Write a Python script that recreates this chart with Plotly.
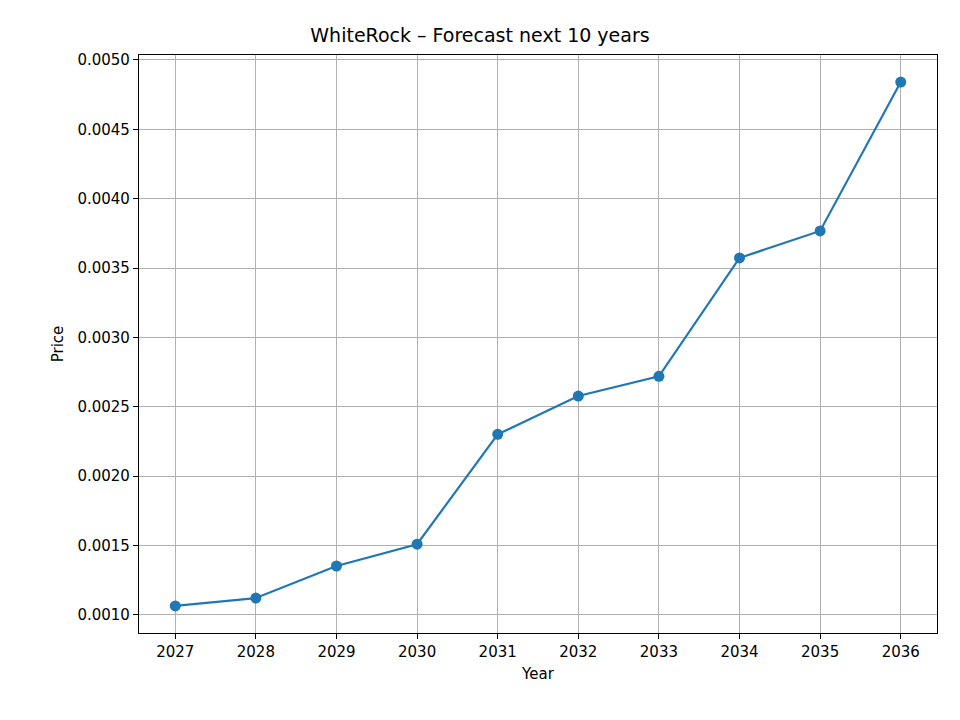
import plotly.graph_objects as go

years = [2027, 2028, 2029, 2030, 2031, 2032, 2033, 2034, 2035, 2036]
prices = [0.001065, 0.001122, 0.001353, 0.001510, 0.002302, 0.002578, 0.002720, 0.003573, 0.003768, 0.004841]
y_ticks = [0.0010, 0.0015, 0.0020, 0.0025, 0.0030, 0.0035, 0.0040, 0.0045, 0.0050]

fig = go.Figure(go.Scatter(
    x=years, y=prices, mode="lines+markers",
    line=dict(color="#1f77b4", width=2.2),
    marker=dict(color="#1f77b4", size=11),
))

axis = dict(showline=True, linecolor="black", linewidth=1.2, mirror=True,
            showgrid=True, gridcolor="#b0b0b0", gridwidth=1.2,
            ticks="outside", ticklen=5, tickcolor="black", zeroline=False,
            tickfont=dict(size=15, color="black"))

# page body adds an 8px margin, so the figure is sized to fit inside it
fig.update_layout(
    width=944, height=704,
    paper_bgcolor="white", plot_bgcolor="white",
    font=dict(family="DejaVu Sans", color="black"),
    title=dict(text="WhiteRock – Forecast next 10 years", x=0.5, xanchor="center",
               y=0.961, yanchor="middle", font=dict(size=19)),
    margin=dict(l=131, r=15, t=47, b=79),
    showlegend=False,
    xaxis=dict(axis, range=[2026.55, 2036.45], tickvals=years,
               title=dict(text="Year", font=dict(size=15), standoff=8)),
    yaxis=dict(axis, range=[0.00087, 0.005036], tickvals=y_ticks,
               tickformat=".4f",
               title=dict(text="Price", font=dict(size=15), standoff=10)),
)

fig.write_html("out.html")
